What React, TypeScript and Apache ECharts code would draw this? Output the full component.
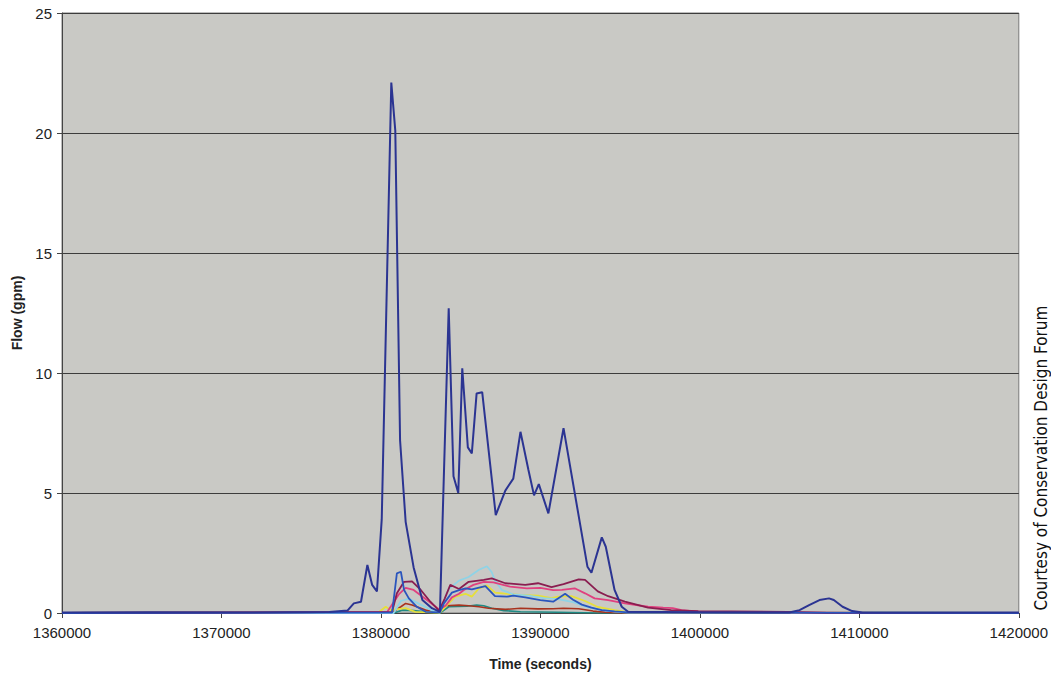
import React, { useEffect, useRef } from "react";
import * as echarts from "echarts";

const xTicks = { min: 1360000, max: 1420000, interval: 10000 };
const yTicks = { min: 0, max: 25, interval: 5 };

const navyT = [1360000, 1365500, 1371750, 1376750, 1377900, 1378300, 1378750, 1379150, 1379450, 1379750, 1380050, 1380650, 1380900, 1381200, 1381550, 1382050, 1382600, 1383200, 1383700, 1384250, 1384550, 1384850, 1385100, 1385450, 1385700, 1386000, 1386350, 1387200, 1387800, 1388300, 1388750, 1389250, 1389600, 1389900, 1390500, 1391450, 1392950, 1393200, 1393850, 1394100, 1394650, 1395100, 1395500, 1399900, 1405600, 1406250, 1406850, 1407500, 1408100, 1408400, 1408950, 1409550, 1410200, 1420000];
const navyV = [0.02, 0.03, 0.02, 0.04, 0.1, 0.4, 0.47, 2.0, 1.17, 0.9, 3.9, 22.1, 20.1, 7.2, 3.8, 1.9, 0.54, 0.2, 0.05, 12.7, 5.7, 5.0, 10.2, 6.9, 6.65, 9.15, 9.2, 4.08, 5.1, 5.6, 7.55, 5.96, 4.9, 5.37, 4.15, 7.7, 1.93, 1.68, 3.15, 2.76, 0.96, 0.26, 0.05, 0.03, 0.02, 0.12, 0.33, 0.54, 0.61, 0.54, 0.26, 0.08, 0.02, 0.02];

const blueT = [1360000, 1380700, 1381000, 1381250, 1381450, 1381750, 1382250, 1382800, 1383700, 1383950, 1384450, 1384900, 1385300, 1385700, 1386550, 1387150, 1387900, 1388300, 1389050, 1390000, 1390800, 1391550, 1392050, 1392600, 1393200, 1393850, 1394650, 1395500, 1420000];
const blueV = [0, 0.02, 1.65, 1.72, 0.96, 0.61, 0.26, 0.05, 0.03, 0.4, 0.85, 0.95, 1.03, 0.98, 1.12, 0.7, 0.68, 0.72, 0.65, 0.54, 0.47, 0.8, 0.55, 0.35, 0.22, 0.12, 0.07, 0.03, 0];

const pinkT = [1360000, 1380400, 1381150, 1381550, 1382050, 1382800, 1383650, 1384050, 1384450, 1384900, 1385200, 1385800, 1386450, 1387050, 1388100, 1389150, 1390000, 1390800, 1391350, 1392150, 1392800, 1393400, 1394250, 1395300, 1396750, 1397700, 1398300, 1398850, 1399900, 1403600, 1411100, 1420000];
const pinkV = [0, 0.05, 0.8, 1.05, 0.96, 0.58, 0.15, 0.3, 0.65, 0.8, 0.96, 1.17, 1.3, 1.28, 1.1, 1.03, 1.05, 0.95, 0.96, 1.03, 0.82, 0.61, 0.54, 0.4, 0.26, 0.22, 0.2, 0.12, 0.06, 0.04, 0, 0];

const violetT = [1360000, 1380700, 1381000, 1381450, 1381950, 1382500, 1383100, 1383650, 1384000, 1384350, 1384900, 1385500, 1386450, 1386950, 1387800, 1389050, 1389850, 1390700, 1391450, 1392400, 1392800, 1393600, 1394250, 1395300, 1396750, 1398200, 1399900, 1405500, 1408000, 1420000];
const violetV = [0, 0.05, 0.82, 1.3, 1.32, 0.96, 0.47, 0.1, 0.6, 1.17, 1.0, 1.3, 1.38, 1.44, 1.24, 1.17, 1.24, 1.08, 1.2, 1.4, 1.38, 0.9, 0.7, 0.47, 0.22, 0.12, 0.08, 0.05, 0, 0];

const yellowT = [1360000, 1379900, 1380300, 1380600, 1381550, 1382150, 1383700, 1384250, 1384650, 1385300, 1385700, 1386150, 1386650, 1387150, 1387900, 1388750, 1389850, 1390700, 1391100, 1391950, 1392800, 1393600, 1394650, 1395500, 1420000];
const yellowV = [0, 0.05, 0.26, 0.12, 0.2, 0.05, 0.02, 0.4, 0.68, 0.8, 0.68, 1.03, 1.15, 0.85, 0.8, 0.75, 0.72, 0.62, 0.68, 0.7, 0.5, 0.25, 0.12, 0.04, 0];

const cyanT = [1360000, 1380800, 1381250, 1381750, 1382500, 1383300, 1383700, 1384050, 1384250, 1384900, 1385500, 1386150, 1386650, 1386950, 1387150, 1387600, 1388300, 1389250, 1390200, 1391100, 1392050, 1392800, 1393600, 1394650, 1395500, 1420000];
const cyanV = [0, 0, 0.5, 0.6, 0.35, 0.08, 0.02, 0.7, 1.0, 1.35, 1.5, 1.8, 1.95, 1.7, 1.35, 0.95, 0.78, 0.72, 0.62, 0.58, 0.45, 0.28, 0.15, 0.06, 0.02, 0];

const tealT = [1360000, 1380800, 1381350, 1382050, 1383000, 1383700, 1384250, 1385400, 1386000, 1386450, 1386950, 1387700, 1388750, 1391100, 1393600, 1420000];
const tealV = [0, 0, 0.12, 0.1, 0.03, 0, 0.26, 0.28, 0.33, 0.3, 0.2, 0.1, 0.05, 0.03, 0, 0];

const redT = [1360000, 1380700, 1381250, 1381550, 1381950, 1382800, 1383400, 1383700, 1384050, 1384900, 1385500, 1386150, 1386750, 1387800, 1388750, 1389850, 1390800, 1391450, 1392400, 1393300, 1394050, 1394900, 1420000];
const redV = [0, 0.02, 0.26, 0.4, 0.33, 0.12, 0.03, 0.02, 0.3, 0.33, 0.3, 0.26, 0.2, 0.15, 0.2, 0.17, 0.18, 0.2, 0.18, 0.08, 0.03, 0, 0];

const zip = (t: number[], v: number[]) => t.map((x, i) => [x, v[i]]);

const seriesDefs = [
  { name: "Teal", t: tealT, v: tealV, color: "#1f8a84", w: 1.6 },
  { name: "Dark red", t: redT, v: redV, color: "#a8321e", w: 1.6 },
  { name: "Yellow", t: yellowT, v: yellowV, color: "#e6df3a", w: 1.8 },
  { name: "Cyan", t: cyanT, v: cyanV, color: "#8fd3e6", w: 1.8 },
  { name: "Magenta", t: pinkT, v: pinkV, color: "#e0407f", w: 1.8 },
  { name: "Violet", t: violetT, v: violetV, color: "#8a1d50", w: 1.8 },
  { name: "Blue", t: blueT, v: blueV, color: "#2a55bd", w: 1.8 },
  { name: "Navy", t: navyT, v: navyV, color: "#2b3492", w: 2 },
];

export default function App() {
  const ref = useRef<HTMLDivElement>(null);
  useEffect(() => {
    if (!ref.current) return;
    const chart = echarts.init(ref.current, undefined, { renderer: "svg" });
    const font = "'Liberation Sans', Arial, sans-serif";
    chart.setOption({
      animation: false,
      backgroundColor: "#ffffff",
      grid: {
        left: 62,
        top: 13,
        width: 959,
        height: 600,
        show: true,
        backgroundColor: "#c9c9c5",
        borderColor: "#7a7a7a",
        borderWidth: 1,
      },
      xAxis: {
        type: "value",
        min: xTicks.min,
        max: xTicks.max,
        interval: xTicks.interval,
        name: "Time (seconds)",
        nameLocation: "middle",
        nameGap: 44,
        nameTextStyle: { fontFamily: font, fontSize: 14, fontWeight: "bold", color: "#222" },
        axisLine: { show: true, lineStyle: { color: "#444", width: 1 } },
        axisTick: { show: true, inside: false, length: 5, lineStyle: { color: "#444" } },
        axisLabel: {
          fontFamily: font,
          fontSize: 15,
          color: "#222",
          margin: 12,
          formatter: (v: number) => String(v),
        },
        splitLine: { show: false },
      },
      yAxis: {
        type: "value",
        min: yTicks.min,
        max: yTicks.max,
        interval: yTicks.interval,
        name: "Flow (gpm)",
        nameLocation: "middle",
        nameGap: 33,
        nameRotate: 90,
        nameTextStyle: { fontFamily: font, fontSize: 14, fontWeight: "bold", color: "#222" },
        axisLine: { show: true, lineStyle: { color: "#444", width: 1 } },
        axisTick: { show: true, inside: false, length: 5, lineStyle: { color: "#444" } },
        axisLabel: { fontFamily: font, fontSize: 15, color: "#222", margin: 10 },
        splitLine: { show: true, lineStyle: { color: "#3c3c3c", width: 1 } },
      },
      graphic: [
        {
          type: "text",
          x: 1041,
          y: 458,
          rotation: Math.PI / 2,
          style: {
            text: "Courtesy of Conservation Design Forum",
            fontFamily: "'Liberation Sans Narrow', 'DejaVu Sans Condensed', 'Liberation Sans', sans-serif",
            fontSize: 17,
            fill: "#111",
            textAlign: "center",
            textVerticalAlign: "middle",
          },
        },
      ],
      series: seriesDefs.map((s) => ({
        name: s.name,
        type: "line",
        data: zip(s.t, s.v),
        showSymbol: false,
        symbol: "none",
        lineStyle: { color: s.color, width: s.w },
        itemStyle: { color: s.color },
        z: 2,
      })),
    });
    return () => chart.dispose();
  }, []);
  return (
    <div
      ref={ref}
      style={{ position: "fixed", left: 0, top: 0, width: 1051, height: 677 }}
    />
  );
}
